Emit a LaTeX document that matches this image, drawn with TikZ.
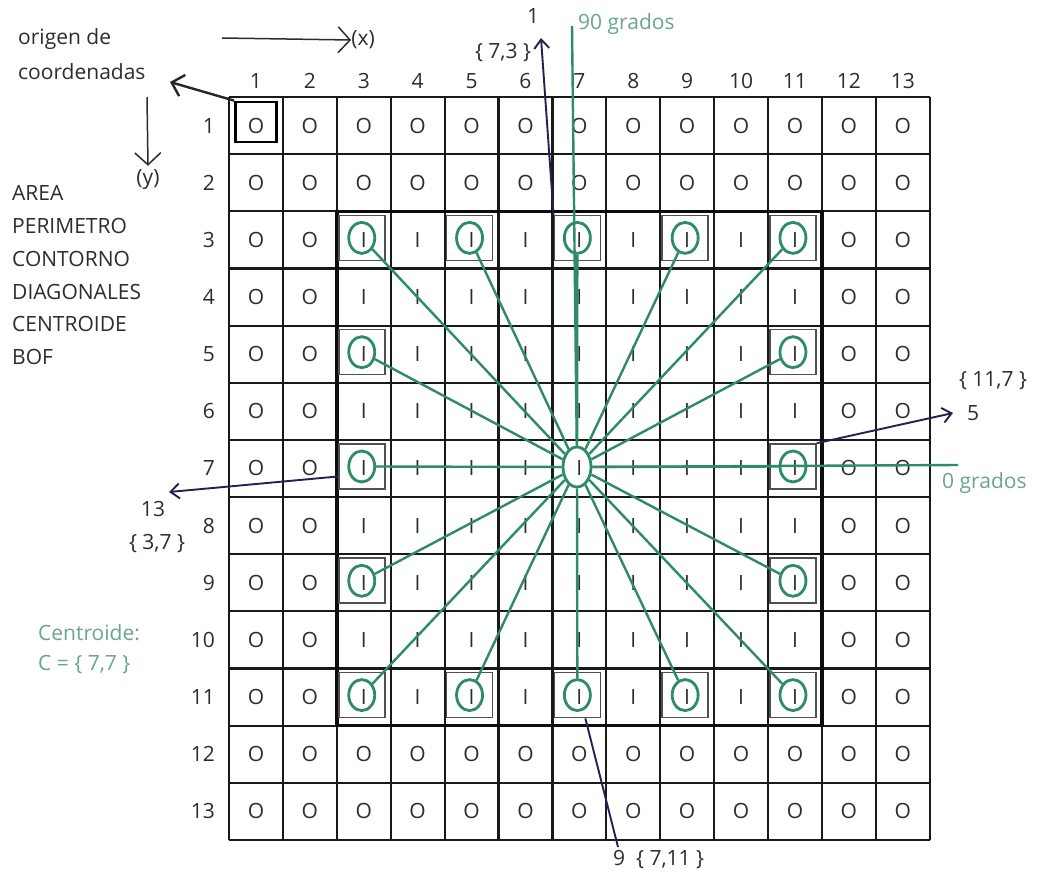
\documentclass[tikz,border=0pt]{standalone}
\usepackage{fontspec}
\setmainfont{Open Sans}
\usetikzlibrary{shapes.geometric,arrows.meta,calc}
\definecolor{gl}{RGB}{46,140,100}
\definecolor{gt}{RGB}{105,165,145}
\definecolor{nv}{RGB}{30,36,80}
\definecolor{tx}{RGB}{45,45,45}
\definecolor{bx}{RGB}{80,80,80}
\begin{document}
\begin{tikzpicture}[x=1pt,y=-1pt,
  txt/.style={text=tx,font=\fontsize{21}{25}\selectfont,inner sep=0pt},
  gtxt/.style={text=gt,font=\fontsize{21}{25}\selectfont,inner sep=0pt},
  cell/.style={text=tx,font=\fontsize{21}{25}\selectfont,inner sep=0pt},
  gridl/.style={draw=black!90,line width=2.2pt},
  thick/.style={draw=black!95,line width=3.6pt},
  bbox/.style={draw=bx,line width=1.6pt,minimum width=46pt,minimum height=45pt,inner sep=0pt},
  gell/.style={draw=gl,ellipse,line width=2.8pt,minimum width=26pt,minimum height=31pt,inner sep=0pt},
  gline/.style={draw=gl,line width=2.4pt},
  narrow/.style={draw=nv,line width=1.9pt,-{Straight Barb[length=9pt,width=15pt,line width=1.9pt]}},
  nline/.style={draw=nv,line width=1.9pt},
  barb/.style={draw=tx,line width=1.5pt,-{Straight Barb[length=12pt,width=26pt,line width=1.5pt]}}
]
\useasboundingbox (0,0) rectangle (1043,875);
\fill[white] (0,0) rectangle (1043,875);
% grid lines
\foreach \i in {0,...,13} {
  \draw[gridl] ({229+53.9*\i},97) -- ({229+53.9*\i},840);
  \draw[gridl] (229,{97+57.15*\i}) -- (929.7,{97+57.15*\i});
}
\draw[thick] ({229+53.9*2},{97+57.15*2}) rectangle ({229+53.9*11},{97+57.15*11});
% labels
\foreach \i in {1,...,13} {
  \node[txt] (col-\i) at ({229+53.9*(\i-0.5)},81) {\i};
  \node[txt,anchor=east] (row-\i) at (215,{97+57.15*(\i-0.5)}) {\i};
}
% cells
\foreach \c in {1,...,13} {
  \foreach \r in {1,...,13} {
    \pgfmathsetmacro\cx{229+53.9*(\c-0.5)}
    \pgfmathsetmacro\cy{97+57.15*(\r-0.5)}
    \pgfmathtruncatemacro\inn{and(and(\c>2,\c<12),and(\r>2,\r<12))}
    \ifnum\inn=1
      \node[cell] (c-\c-\r) at (\cx,\cy) {I};
    \else
      \node[cell] (c-\c-\r) at (\cx,\cy) {O};
    \fi
  }
}
% boundary boxes and ellipses
\foreach \c/\r in {3/3,5/3,7/3,9/3,11/3,3/5,11/5,3/7,11/7,3/9,11/9,3/11,5/11,7/11,9/11,11/11} {
  \pgfmathsetmacro\cx{229+53.9*(\c-0.5)-2}
  \pgfmathsetmacro\cy{97+57.15*(\r-0.5)-2}
  \node[bbox] (b-\c-\r) at (\cx,\cy) {};
  \node[gell] (e-\c-\r) at (\cx,\cy) {};
}
\node[gell,minimum width=28pt,minimum height=40pt] (e-7-7) at (577,467) {};
% origin box
\node[draw=black,line width=2.8pt,minimum width=41pt,minimum height=40pt,inner sep=0pt] (b-1-1) at (256,122) {};
% green rays
\foreach \c/\r in {3/3,5/3,7/3,9/3,11/3,3/5,11/5,3/7,11/7,3/9,11/9,3/11,5/11,7/11,9/11,11/11} {
  \draw[gline] (e-7-7) -- (e-\c-\r);
}
\coordinate (g90) at (572,26);
\coordinate (g0) at (958,465);
\draw[gline] (e-7-7) -- (g90);
\draw[gline] (e-7-7) -- (g0);
\node[gtxt,anchor=west] (l90) at (578,24) {90 grados};
\node[gtxt,anchor=west] (l0) at (942,483) {0 grados};
% navy arrows
\coordinate (t1) at (541,38);
\coordinate (t5) at (953,413);
\coordinate (t13) at (169,492);
\coordinate (t9) at (618,847);
\draw[narrow] (b-7-3.north west) -- (t1);
\draw[narrow] (b-11-7.north east) -- (t5);
\draw[narrow] ([yshift=-10pt]b-3-7.west) -- (t13);
\draw[nline] ([xshift=8pt]b-7-11.south) -- (t9);
\node[txt] (n1) at (533,16) {1};
\node[txt] (p73) at (503,53) {\{ 7,3 \}};
\node[txt] (n5) at (973,413) {5};
\node[txt] (p117) at (993,381) {\{ 11,7 \}};
\node[txt] (n13) at (153,509) {13};
\node[txt] (p37) at (157,544) {\{ 3,7 \}};
\node[txt,anchor=west] (n9) at (613,860) {9\ \ \{ 7,11 \}};
% origin texts
\node[txt,anchor=west] (orig1) at (18,39) {origen de};
\node[txt,anchor=west] (orig2) at (18,72) {coordenadas};
\coordinate (otip) at (170,82);
\draw[draw=black!85,line width=2.4pt,-{Straight Barb[length=11pt,width=22pt,line width=2.4pt]}] (b-1-1.north west) -- (otip);
\coordinate (xs) at (222,38);
\node[txt] (xl) at (363,40) {(x)};
\draw[barb] (xs) -- (xl.west);
\coordinate (ys) at (147,97);
\node[txt] (yl) at (148,180) {(y)};
\draw[barb] (ys) -- ([yshift=4pt]yl.north);
% left list
\node[txt,anchor=west] (a1) at (12,193) {AREA};
\node[txt,anchor=west] (a2) at (12,226) {PERIMETRO};
\node[txt,anchor=west] (a3) at (12,259) {CONTORNO};
\node[txt,anchor=west] (a4) at (12,292) {DIAGONALES};
\node[txt,anchor=west] (a5) at (12,324) {CENTROIDE};
\node[txt,anchor=west] (a6) at (12,357) {BOF};
\node[gtxt,anchor=west] (ct1) at (38,633) {Centroide:};
\node[gtxt,anchor=west] (ct2) at (38,665) {C = \{ 7,7 \}};
\end{tikzpicture}
\end{document}
